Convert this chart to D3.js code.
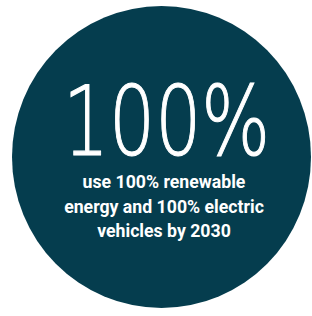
<!DOCTYPE html>
<html>
<head>
<meta charset="utf-8">
<script src="https://cdn.jsdelivr.net/npm/d3@7"></script>
<style>
  html, body { margin: 0; padding: 0; background: #fff; }
  svg { display: block; }
</style>
</head>
<body>
<svg id="chart" width="312" height="316"></svg>
<script>
// the single figure on the badge, and the caption under it
const values = [100]
const units = ['%']
const captionLines = ['use 100% renewable', 'energy and 100% electric', 'vehicles by 2030']

const svg = d3.select('#chart')

// badge circle
const cx = 161.5
const cy = 157
svg.append('ellipse')
  .attr('cx', cx).attr('cy', cy)
  .attr('rx', 149.5).attr('ry', 151)
  .attr('fill', '#053d4e')

// big number: a narrow face, so set it smaller and stretch it tall
const bigSize = 70
svg.selectAll('text.big')
  .data(values)
  .enter().append('text').attr('class', 'big')
  .attr('transform', `translate(63,155) scale(1,${96 / bigSize})`)
  .attr('textLength', 207)
  .attr('lengthAdjust', 'spacingAndGlyphs')
  .attr('fill', '#fff')
  .attr('stroke', '#fff')
  .attr('stroke-width', 1)
  .attr('vector-effect', 'non-scaling-stroke')
  .style('font-family', "'DejaVu Sans', sans-serif")
  .style('font-weight', 200)
  .style('font-size', bigSize + 'px')
  .text((d, i) => d + units[i])

// caption lines, spaced with a point scale
const y = d3.scalePoint()
  .domain(d3.range(captionLines.length))
  .range([188, 237])

svg.selectAll('text.caption')
  .data(captionLines)
  .enter().append('text').attr('class', 'caption')
  .attr('x', 164)
  .attr('y', (d, i) => y(i))
  .attr('text-anchor', 'middle')
  .attr('fill', '#fff')
  .style('font-family', "'Roboto', 'Open Sans', sans-serif")
  .style('font-weight', 700)
  .style('font-size', '17.7px')
  .text(d => d)
</script>
</body>
</html>
